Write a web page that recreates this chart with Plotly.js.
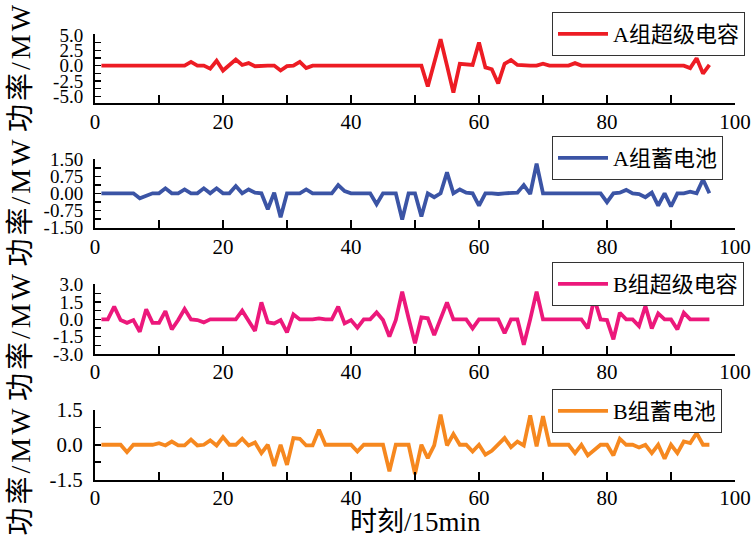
<!DOCTYPE html>
<html>
<head>
<meta charset="utf-8">
<script src="https://cdn.plot.ly/plotly-3.0.1.min.js"></script>
<style>html,body{margin:0;padding:0;background:#fff;}#chart{width:755px;height:542px;}</style>
</head>
<body>
<div id="chart"></div>
<script>
// time steps (15 min intervals)
const steps = [];
for (let i = 1; i <= 96; i++) steps.push(i);

const seriesNames = ["A组超级电容", "A组蓄电池", "B组超级电容", "B组蓄电池"];

const aSuperCap = [
  0,0,0,0,0,0,0,0,0,0, 0,0,0,0,0.6,0,0,-0.5,0.8,-0.8,
  0.1,1.0,0.1,0.4,-0.1,0,0,0,-0.8,-0.1, 0,0.6,-0.4,0,0,0,0,0,0,0,
  0,0,0,0,0,0,0,0,0,0, 0,-3.4,0.5,4.3,0,-4.4,0.3,0.2,0.1,3.75,
  -0.3,-0.6,-2.9,0.3,0.9,0.1,0,0,0,0.3, 0,0,0,0,0.4,0,0,0,0,0,
  0,0,0,0,0,0,0,0,0,0, 0,0,-0.4,1.2,-1.3,0.1
];
const aBattery = [
  0,0,-0.02,-0.04,0,0,-0.22,-0.1,0,0, 0.22,0,0,0.17,0,0,0.22,0,0.22,0,
  0,0.32,0,0.17,0.03,0,-0.7,0.03,-1.05,0, 0,0,0.17,0,0,0,0,0.36,0.1,0,
  0,0,0,-0.48,0,0,0,-1.16,0,0, -1.02,0,-0.17,0,0.92,0,0.17,0.03,0,-0.54,
  0,0,-0.03,0,0.03,0.03,0.36,-0.03,1.31,0, 0,0,0,0,0,0,0,0,0,-0.39,
  0,0.03,0.15,0,-0.03,-0.17,0.03,-0.54,0,-0.58, 0,0,0.07,0,0.61,0
];
const bSuperCap = [
  0,0,1.1,-0.06,-0.3,-0.06,-1.07,0.87,-0.3,-0.3, 0.72,-0.87,-0.06,0.9,0,-0.06,-0.26,0,0,0,
  0,0,0.75,-0.06,-1.0,1.47,-0.26,-0.35,-0.06,-1.13, 0.43,0,0,0,0.09,0,0,1.1,-0.35,-0.06,
  -0.72,0,0,0.6,-0.06,-1.5,-0.06,2.4,0.1,-2.08, 0.17,0.09,-1.36,0,1.47,0,0,0,-0.78,0,
  0,0,0,-1.2,0,0,-2.2,0,2.4,0, 0,0,0,0,0,0,-0.78,1.82,0,-0.06,
  -1.73,0.58,0,0,-0.58,1.16,-0.78,0.52,0,0, -0.87,0.58,0,0,0,0
];
const bBattery = [
  0,0,0,0,-0.32,0,0,0,0,0.07, -0.03,0.14,-0.03,-0.03,0.22,-0.03,0,0.19,-0.03,0.33,
  0,0,0.26,-0.03,0.1,-0.36,0,-0.91,0,-0.87, 0.29,0.26,-0.03,-0.03,0.65,0,0,0,0,0,
  -0.29,0,0,0,0,-1.15,0,0,0,-1.27, 0,-0.58,-0.03,1.3,-0.03,0.46,0,0,-0.29,0,
  -0.43,-0.26,0,0.29,-0.1,0.14,-0.03,1.27,-0.07,1.23, 0,0,0,0,-0.36,0,-0.46,-0.22,0,0,
  -0.46,0.26,0,0,-0.12,0,-0.36,0,-0.6,0, -0.36,0.14,0.07,0.5,0,0
];

const xTickVals = [0, 20, 40, 60, 80, 100];
const xTickText = ["0", "20", "40", "60", "80", "100"];
const y1TickVals = [-5, -2.5, 0, 2.5, 5];
const y1TickText = ["-5.0", "-2.5", "0.0", "2.5", "5.0"];
const y2TickVals = [-1.5, -0.75, 0, 0.75, 1.5];
const y2TickText = ["-1.50", "-0.75", "0.00", "0.75", "1.50"];
const y3TickVals = [-3, -1.5, 0, 1.5, 3];
const y3TickText = ["-3.0", "-1.5", "0.0", "1.5", "3.0"];
const y4TickVals = [-1.5, 0, 1.5];
const y4TickText = ["-1.5", "0.0", "1.5"];
const yTitle = "功率/MW";
const xTitle = "时刻/15min";

const colors = ["#ED1C24", "#3B54A5", "#EC187B", "#F6881F"];
const series = [aSuperCap, aBattery, bSuperCap, bBattery];

const W = 755, H = 542;
const FONT = "Liberation Serif, Times New Roman, Noto Sans CJK SC, serif";
const px2y = p => 1 - p / H;

// panel pixel extents (top, bottom)
const panels = [[34.3, 103.3], [159, 228.3], [284.3, 354], [410, 480]];
const yRanges = [[-6.14, 5.1], [-1.54, 1.51], [-3.0, 3.04], [-1.52, 1.5]];
const yTicks = [[y1TickVals, y1TickText, 1.25], [y2TickVals, y2TickText, 0.375], [y3TickVals, y3TickText, 0.75], [y4TickVals, y4TickText, 0.75]];
const legendTops = [12, 136, 262, 389];

const traces = series.map((s, i) => ({
  x: steps, y: s, type: "scatter", mode: "lines",
  name: seriesNames[i],
  line: { color: colors[i], width: 3.8 },
  xaxis: i === 0 ? "x" : "x" + (i + 1),
  yaxis: i === 0 ? "y" : "y" + (i + 1),
  legend: i === 0 ? "legend" : "legend" + (i + 1),
  showlegend: true
}));

const layout = {
  width: W, height: H,
  margin: { l: 0, r: 0, t: 0, b: 0 },
  paper_bgcolor: "#fff", plot_bgcolor: "#fff",
  font: { family: FONT, color: "#000", size: 20 },
  showlegend: true,
  annotations: []
};

for (let i = 0; i < 4; i++) {
  const xs = i === 0 ? "xaxis" : "xaxis" + (i + 1);
  const ys = i === 0 ? "yaxis" : "yaxis" + (i + 1);
  const yid = i === 0 ? "y" : "y" + (i + 1);
  const xid = i === 0 ? "x" : "x" + (i + 1);
  layout[xs] = {
    domain: [95 / W, 735 / W], range: [0, 100], anchor: yid,
    showline: true, linecolor: "#000", linewidth: 2, mirror: false,
    showgrid: false, zeroline: false,
    ticks: "inside", ticklen: 8, tickwidth: 1.5, tickcolor: "#000",
    tickvals: xTickVals, ticktext: xTickText,
    tickfont: { family: FONT, size: 21, color: "#000" },
    minor: { tickvals: [10, 30, 50, 70, 90], ticks: "inside", ticklen: 8, tickwidth: 1.5, tickcolor: "#000" },
    ticklabelstandoff: -2,
    automargin: false, fixedrange: true
  };
  layout[ys] = {
    domain: [px2y(panels[i][1]), px2y(panels[i][0])], range: yRanges[i], anchor: xid,
    showline: true, linecolor: "#000", linewidth: 2, mirror: false,
    showgrid: false, zeroline: false,
    ticks: "inside", ticklen: 6, tickwidth: 1.5, tickcolor: "#000",
    tickvals: yTicks[i][0], ticktext: yTicks[i][1],
    tickfont: { family: FONT, size: i === 3 ? 21 : 19, color: "#000" },
    minor: { dtick: yTicks[i][2], tick0: 0, ticks: "inside", ticklen: 6, tickwidth: 1.5, tickcolor: "#000" },
    ticklabelstandoff: 6,
    automargin: false, fixedrange: true
  };
  const lg = i === 0 ? "legend" : "legend" + (i + 1);
  layout[lg] = {
    x: 552 / W, y: px2y(legendTops[i]), xanchor: "left", yanchor: "top",
    xref: "paper", yref: "paper",
    bgcolor: "#fff", bordercolor: "#333", borderwidth: 1,
    font: { family: FONT, size: 22, color: "#000" },
    itemwidth: 50
  };
}

// repeated y-axis title (one per panel, stacked)
const yTitleCenters = [67, 201.5, 336, 470.5];
yTitleCenters.forEach(c => {
  layout.annotations.push({
    text: '<span style="letter-spacing:3px">' + yTitle + '</span>',
    xref: "paper", yref: "paper",
    x: 20 / W, y: px2y(c), xanchor: "center", yanchor: "middle",
    textangle: -90, showarrow: false,
    font: { family: FONT, size: 28, color: "#000" }
  });
});
layout.annotations.push({
  text: xTitle, xref: "paper", yref: "paper",
  x: 415 / W, y: px2y(522), xanchor: "center", yanchor: "middle",
  showarrow: false, font: { family: FONT, size: 27, color: "#000" }
});

Plotly.newPlot("chart", traces, layout, { displayModeBar: false, staticPlot: true });
</script>
</body>
</html>
